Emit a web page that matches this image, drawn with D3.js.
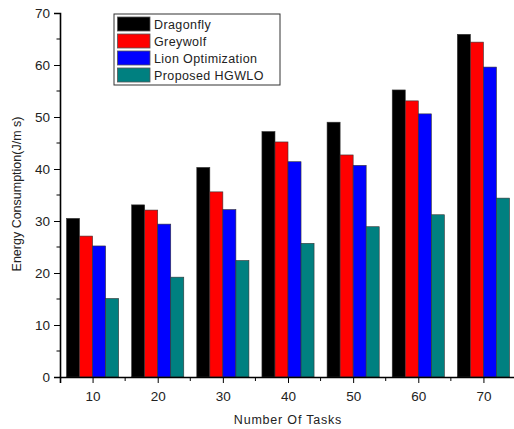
<!DOCTYPE html>
<html>
<head>
<meta charset="utf-8">
<script src="https://cdn.jsdelivr.net/npm/d3@7"></script>
<style>
  body { margin: 0; background: #fff; }
  text { font-family: "Liberation Sans", Arial, sans-serif; fill: #222; }
</style>
</head>
<body>
<div id="chart"></div>
<script>
const tasks = [10, 20, 30, 40, 50, 60, 70];
const seriesNames = ['Dragonfly', 'Greywolf', 'Lion Optimization', 'Proposed HGWLO'];
const dragonfly = [30.5, 33.1, 40.3, 47.2, 49.0, 55.2, 65.9];
const greywolf = [27.1, 32.1, 35.6, 45.2, 42.7, 53.1, 64.4];
const lion = [25.2, 29.4, 32.2, 41.4, 40.7, 50.6, 59.6];
const hgwlo = [15.1, 19.2, 22.4, 25.7, 28.9, 31.2, 34.4];
const colors = ['#000000', '#ff0000', '#0000ff', '#008080'];
const yTicks = [0, 10, 20, 30, 40, 50, 60, 70];

const series = [dragonfly, greywolf, lion, hgwlo];
const width = 514;
const height = 429;
const margin = { top: 13, right: -2, bottom: 52, left: 60 };

const svg = d3.select('#chart').append('svg')
    .attr('width', width)
    .attr('height', height);

const x = d3.scaleLinear().domain([5, 75]).range([margin.left, width - margin.right]);
const y = d3.scaleLinear().domain([0, 70]).range([height - margin.bottom, margin.top]);
const band = (x(20) - x(10)) * 0.2;

// bars
tasks.forEach((t, i) => {
    series.forEach((s, j) => {
        svg.append('rect')
            .attr('x', x(t) + (j - 2) * band)
            .attr('y', y(s[i]))
            .attr('width', band)
            .attr('height', y(0) - y(s[i]))
            .attr('fill', colors[j])
            .attr('stroke', '#333')
            .attr('stroke-width', 0.6);
    });
});

// y axis
const yAxis = svg.append('g')
    .attr('transform', `translate(${margin.left},0)`)
    .call(d3.axisLeft(y).tickValues(yTicks).tickSize(6).tickPadding(4));
svg.append('g')
    .selectAll('line')
    .data(d3.range(5, 70, 10))
    .join('line')
    .attr('x1', margin.left - 3.5)
    .attr('x2', margin.left)
    .attr('y1', d => y(d))
    .attr('y2', d => y(d))
    .attr('stroke', '#000');

// x axis
const xAxis = svg.append('g')
    .attr('transform', `translate(0,${y(0)})`)
    .call(d3.axisBottom(x).tickValues(tasks).tickSize(6).tickPadding(8).tickFormat(d3.format('d')));
svg.append('g')
    .selectAll('line')
    .data(d3.range(15, 80, 10))
    .join('line')
    .attr('x1', d => x(d))
    .attr('x2', d => x(d))
    .attr('y1', y(0))
    .attr('y2', y(0) + 4)
    .attr('stroke', '#000');

[yAxis, xAxis].forEach((g) => {
    g.select('.domain').attr('stroke', '#000').attr('stroke-width', 1.6);
    g.selectAll('.tick line').attr('stroke', '#000');
    g.selectAll('.tick text')
        .style('font-family', '"Liberation Sans", Arial, sans-serif')
        .style('font-size', '13.5px')
        .attr('fill', '#333');
});

// axis titles
svg.append('text')
    .attr('x', 288)
    .attr('y', 424)
    .attr('text-anchor', 'middle')
    .style('font-size', '12.5px')
    .style('letter-spacing', '0.8px')
    .text('Number Of Tasks');

svg.append('text')
    .attr('transform', `translate(21,194) rotate(-90)`)
    .attr('text-anchor', 'middle')
    .style('font-size', '12.5px')
    .text('Energy Consumption(J/m s)');

// legend
const legend = svg.append('g');
legend.append('rect')
    .attr('x', 114)
    .attr('y', 14)
    .attr('width', 166)
    .attr('height', 71)
    .attr('fill', '#fff')
    .attr('stroke', '#333')
    .attr('stroke-width', 1);

seriesNames.forEach((name, j) => {
    const yy = 17 + j * 17;
    legend.append('rect')
        .attr('x', 117.5)
        .attr('y', yy)
        .attr('width', 32.5)
        .attr('height', 14)
        .attr('fill', colors[j])
        .attr('stroke', '#555')
        .attr('stroke-width', 0.8);
    legend.append('text')
        .attr('x', 154)
        .attr('y', yy + 11.5)
        .style('font-size', '12.5px')
        .style('letter-spacing', '0.4px')
        .text(name);
});
</script>
</body>
</html>
